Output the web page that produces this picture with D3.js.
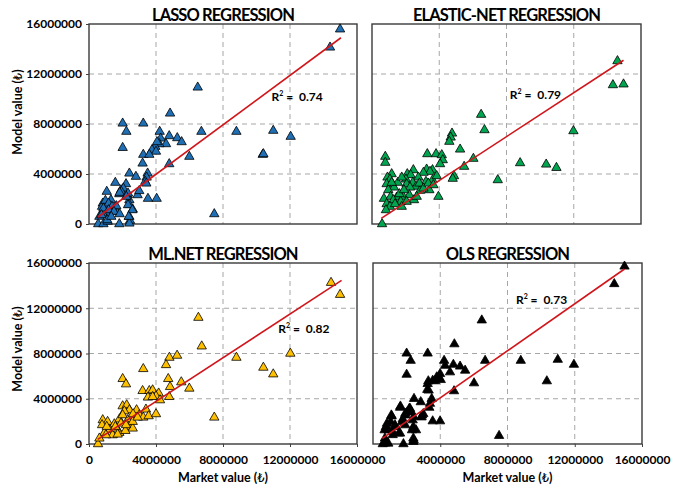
<!DOCTYPE html>
<html>
<head>
<meta charset="utf-8">
<script src="https://cdn.jsdelivr.net/npm/d3@7"></script>
<style>
  body { margin: 0; background: #fff; }
  svg { display: block; font-family: Lato, "Open Sans", sans-serif; }
</style>
</head>
<body>
<svg id="chart" width="681" height="487"></svg>
<script>
// values in millions of ₺ : [market value, model value]
const lassoPoints = [
  [6.49,10.93],[4.84,8.85],[2.01,8.05],[3.24,8.05],[2.23,7.39],[4.22,7.39],[4.79,7.04],[5.27,6.88],
  [5.53,6.56],[6.71,7.39],[8.8,7.39],[10.37,5.55],[2.01,6.1],[4.28,6.85],[4.6,6.4],[4.2,6.4],
  [3.96,6.19],[4.06,6.56],[3.76,5.92],[4.0,5.8],[3.24,5.55],[3.6,5.55],[5.99,5.39],[3.2,4.85],
  [4.79,4.8],[2.41,4.05],[2.8,3.79],[3.5,4.05],[3.44,3.73],[3.36,3.39],[1.57,3.31],[2.21,3.2],
  [1.06,2.59],[1.91,2.72],[2.05,2.85],[1.81,2.4],[2.31,2.32],[2.9,2.32],[3.0,2.65],[3.52,2.03],
  [4.04,2.03],[1.31,1.92],[0.82,1.65],[0.78,1.39],[1.01,1.52],[2.41,1.92],[2.41,1.55],[2.61,1.17],
  [1.65,0.99],[1.25,1.12],[1.11,0.72],[0.62,0.59],[0.82,0.85],[2.41,0.59],[2.45,0.27],[1.81,0.0],
  [0.55,0.0],[0.86,0.0],[2.41,0.05],[1.11,0.2],[7.48,0.8],[14.99,15.58],[14.39,14.13],[11.0,7.47],
  [12.04,6.99],[10.41,5.6],[1.93,2.59],[1.83,2.51],[2.33,2.45],[2.23,2.19],[0.98,1.87],[1.17,1.65],
  [1.37,1.39],[1.63,1.44],[0.86,1.25],[1.17,1.12],[1.49,0.99],[1.83,0.8],[0.74,0.72],[2.33,1.52],
  [2.59,1.12],[2.37,0.59],[1.09,0.32],[1.33,0.59],[3.42,3.25]
];
const elasticPoints = [
  [6.49,8.75],[6.69,7.52],[4.76,7.25],[4.68,6.93],[4.6,6.59],[5.24,5.97],[3.29,5.6],[3.81,5.6],
  [4.15,5.52],[4.21,5.12],[4.05,4.8],[0.79,5.39],[0.79,4.91],[6.03,5.23],[5.48,4.59],[8.81,4.88],
  [10.36,4.77],[4.88,3.84],[4.8,3.63],[7.48,3.52],[3.95,2.19],[3.25,4.37],[3.6,4.32],[3.45,4.19],
  [3.06,4.11],[2.46,4.32],[2.1,4.0],[2.3,3.92],[1.17,4.0],[0.92,3.73],[1.07,3.57],[2.02,3.57],
  [2.76,3.73],[3.21,3.39],[3.6,3.52],[3.85,3.84],[2.42,3.31],[2.62,3.0],[2.06,3.2],[2.26,2.93],
  [1.31,2.93],[0.87,3.2],[0.97,2.72],[3.41,2.72],[2.86,2.67],[0.71,2.03],[1.11,2.19],[1.47,2.13],
  [1.86,2.19],[2.22,2.32],[2.5,1.92],[1.71,1.79],[1.27,1.92],[0.87,1.6],[1.07,1.39],[1.37,1.6],
  [1.77,1.39],[2.06,1.79],[0.83,1.12],[0.6,0.0],[2.82,3.25],[14.6,13.04],[14.33,11.12],[14.96,11.18],
  [11.98,7.44],[10.97,4.5],[1.63,2.4],[2.66,2.19],[3.06,2.85],[3.35,3.25],[3.65,3.12],[1.9,2.72],
  [1.53,3.31],[1.77,3.73],[1.17,3.31]
];
const mlnetPoints = [
  [6.53,11.17],[6.73,8.64],[4.8,7.64],[5.26,7.82],[4.6,6.99],[8.8,7.64],[10.41,6.76],[3.24,6.64],
  [2.01,5.76],[2.21,5.29],[4.73,5.76],[5.51,5.47],[5.99,4.91],[4.84,5.05],[3.2,4.7],[3.6,4.7],
  [3.8,4.76],[4.16,4.48],[3.52,4.12],[4.0,4.23],[4.24,3.88],[4.79,4.17],[2.01,3.35],[2.25,3.44],
  [2.41,3.0],[2.11,2.9],[2.84,3.0],[3.4,3.06],[1.81,2.18],[0.82,2.12],[1.11,1.97],[1.51,1.76],
  [1.91,1.82],[2.31,2.12],[3.0,2.56],[3.24,2.35],[3.56,2.47],[4.0,2.65],[0.78,1.68],[2.37,1.53],
  [2.61,1.38],[1.25,1.23],[0.92,1.0],[1.41,0.79],[1.81,1.0],[2.17,1.17],[7.48,2.35],[0.54,0.0],
  [1.01,0.79],[1.65,1.38],[14.45,14.26],[14.99,13.2],[12.02,8.0],[11.0,6.17],[2.61,1.97],[2.01,2.56],
  [2.63,2.65],[1.57,1.53],[1.06,1.53],[1.71,0.85],[0.62,0.5],[2.21,1.68],[2.9,2.35],[3.8,4.17]
];
const olsPoints = [
  [6.47,10.94],[4.84,8.83],[2.0,8.01],[3.25,8.01],[2.24,7.37],[4.23,7.37],[4.78,7.02],[5.18,6.86],
  [5.48,6.5],[6.67,7.37],[8.79,7.37],[10.34,5.56],[2.0,6.14],[4.29,6.93],[4.58,6.35],[3.99,6.2],
  [3.79,5.91],[4.03,5.67],[3.29,5.56],[3.69,5.56],[6.01,5.38],[3.23,4.8],[4.82,4.68],[2.44,4.0],
  [2.84,3.71],[3.49,4.0],[3.39,3.57],[3.35,3.22],[1.61,3.22],[2.2,3.13],[1.11,2.46],[1.91,2.54],
  [2.04,2.81],[2.89,2.37],[2.99,2.66],[1.77,2.2],[2.36,2.11],[3.55,2.02],[3.99,2.02],[1.31,1.67],
  [0.77,1.52],[0.91,1.23],[2.4,1.52],[2.56,1.23],[1.61,0.94],[1.17,0.8],[0.71,0.5],[2.4,0.5],
  [2.4,0.2],[1.81,0.0],[0.58,0.0],[0.91,0.05],[7.5,0.73],[1.05,1.96],[14.96,15.7],[14.35,14.15],
  [10.99,7.46],[11.95,7.02],[3.25,5.32],[3.55,5.61],[3.91,5.9],[3.31,4.74],[1.63,3.33],[2.16,3.13],
  [1.92,2.69],[2.28,2.84],[2.42,2.4],[2.92,2.54],[1.09,2.54],[0.83,1.81],[1.33,1.52],[1.73,1.96],
  [0.69,1.23],[1.17,1.08],[1.53,0.94],[1.92,1.67],[2.32,1.23],[2.42,0.35],[0.73,0.06]
];

// fitted line end points and R² values
const lassoFit = [[0.54,0.56],[15.04,14.9]];
const elasticFit = [[0.55,0.45],[14.96,13.1]];
const mlnetFit = [[0.52,0.41],[15.08,14.46]];
const olsFit = [[0.56,0.5],[14.96,15.47]];
const r2Values = ['0.74', '0.79', '0.82', '0.73'];
const r2Anchors = [[10.9,10.16],[8.2,10.32],[11.3,10.14],[8.5,12.72]];

const titles = ['LASSO REGRESSION', 'ELASTIC-NET REGRESSION', 'ML.NET REGRESSION', 'OLS REGRESSION'];
const tickValues = [0, 4, 8, 12, 16];

const panels = [
  { points: lassoPoints, fit: lassoFit, color: '#1f6fb5', box: [89, 24, 357, 224], yLabels: true, xLabels: false },
  { points: elasticPoints, fit: elasticFit, color: '#00a550', box: [372, 24, 641, 224], yLabels: false, xLabels: false },
  { points: mlnetPoints, fit: mlnetFit, color: '#ffc000', box: [89, 263, 357, 444], yLabels: true, xLabels: true },
  { points: olsPoints, fit: olsFit, color: '#000000', box: [373, 263, 642, 444], yLabels: false, xLabels: true }
];

const svg = d3.select('#chart');
const fmt = d => d3.format('d')(d * 1e6);

// axis title with a lighter lira sign
function axisTitle(sel, label) {
  sel.attr('text-anchor', 'middle')
    .attr('font-size', 12.5).attr('font-weight', 'bold');
  sel.append('tspan').text(label + ' (');
  sel.append('tspan').attr('font-family', '"DejaVu Sans", sans-serif')
    .attr('font-weight', 'normal').attr('font-size', 11.5).text('₺');
  sel.append('tspan').text(')');
}

panels.forEach((p, i) => {
  const [x0, y0, x1, y1] = p.box;
  const x = d3.scaleLinear().domain([0, 16]).range([x0, x1]);
  const y = d3.scaleLinear().domain([0, 16]).range([y1, y0]);
  const g = svg.append('g');

  // grid lines
  g.selectAll('line.vgrid').data([4, 8, 12]).join('line')
    .attr('x1', d => x(d)).attr('x2', d => x(d))
    .attr('y1', y0).attr('y2', y1)
    .attr('stroke', '#a6a6a6').attr('stroke-dasharray', '5,4');
  g.selectAll('line.hgrid').data([4, 8, 12]).join('line')
    .attr('x1', x0).attr('x2', x1)
    .attr('y1', d => y(d)).attr('y2', d => y(d))
    .attr('stroke', '#a6a6a6').attr('stroke-dasharray', '5,4');

  // frame
  g.append('rect')
    .attr('x', x0).attr('y', y0)
    .attr('width', x1 - x0).attr('height', y1 - y0)
    .attr('fill', 'none').attr('stroke', '#3a3a3a').attr('stroke-width', 1.4);

  // axes
  if (p.yLabels) {
    const ay = g.append('g').attr('transform', `translate(${x0},0)`)
      .call(d3.axisLeft(y).tickValues(tickValues).tickFormat(fmt).tickSize(3).tickPadding(4));
    ay.select('.domain').remove();
    ay.selectAll('text').attr('font-size', 12).attr('font-weight', 'bold').attr('fill', '#000')
      .attr('font-family', 'Lato, sans-serif');
    ay.selectAll('line').attr('stroke', '#404040');

    const cy = i === 0 ? 112 : 349;
    g.append('text')
      .attr('transform', `translate(22,${cy}) rotate(-90)`)
      .call(axisTitle, 'Model value');
  }
  if (p.xLabels) {
    const ax = g.append('g').attr('transform', `translate(0,${y1})`)
      .call(d3.axisBottom(x).tickValues(p.yLabels ? tickValues : tickValues.slice(1))
        .tickFormat(fmt).tickSize(3).tickPadding(8));
    ax.select('.domain').remove();
    ax.selectAll('text').attr('font-size', 12).attr('font-weight', 'bold').attr('fill', '#000')
      .attr('font-family', 'Lato, sans-serif');
    ax.selectAll('line').attr('stroke', '#404040');

    g.append('text')
      .attr('x', (x0 + x1) / 2).attr('y', 482)
      .call(axisTitle, 'Market value');
  }

  // title
  g.append('text')
    .attr('x', (x0 + x1) / 2).attr('y', y0 - 3)
    .attr('text-anchor', 'middle')
    .attr('font-size', 16.5).attr('font-weight', 'bold')
    .attr('letter-spacing', -0.9)
    .text(titles[i]);

  // points
  g.selectAll('path.pt').data(p.points).join('path')
    .attr('class', 'pt')
    .attr('transform', d => `translate(${x(d[0])},${y(d[1])})`)
    .attr('d', d3.symbol(d3.symbolTriangle, 38))
    .attr('fill', p.color)
    .attr('stroke', '#000').attr('stroke-width', 0.8);

  // fitted line
  g.append('path')
    .datum(p.fit)
    .attr('d', d3.line().x(d => x(d[0])).y(d => y(d[1])))
    .attr('fill', 'none').attr('stroke', '#d0161b').attr('stroke-width', 1.6);

  // R² label
  const t = g.append('text')
    .attr('x', x(r2Anchors[i][0])).attr('y', y(r2Anchors[i][1]))
    .attr('dy', '0.35em')
    .attr('font-size', 12).attr('font-weight', 'bold');
  t.append('tspan').text('R');
  t.append('tspan').attr('font-size', 7).attr('dy', -5).text('2');
  t.append('tspan').attr('dy', 5).text('\u00a0=\u00a0\u00a0' + r2Values[i]);
});
</script>
</body>
</html>
